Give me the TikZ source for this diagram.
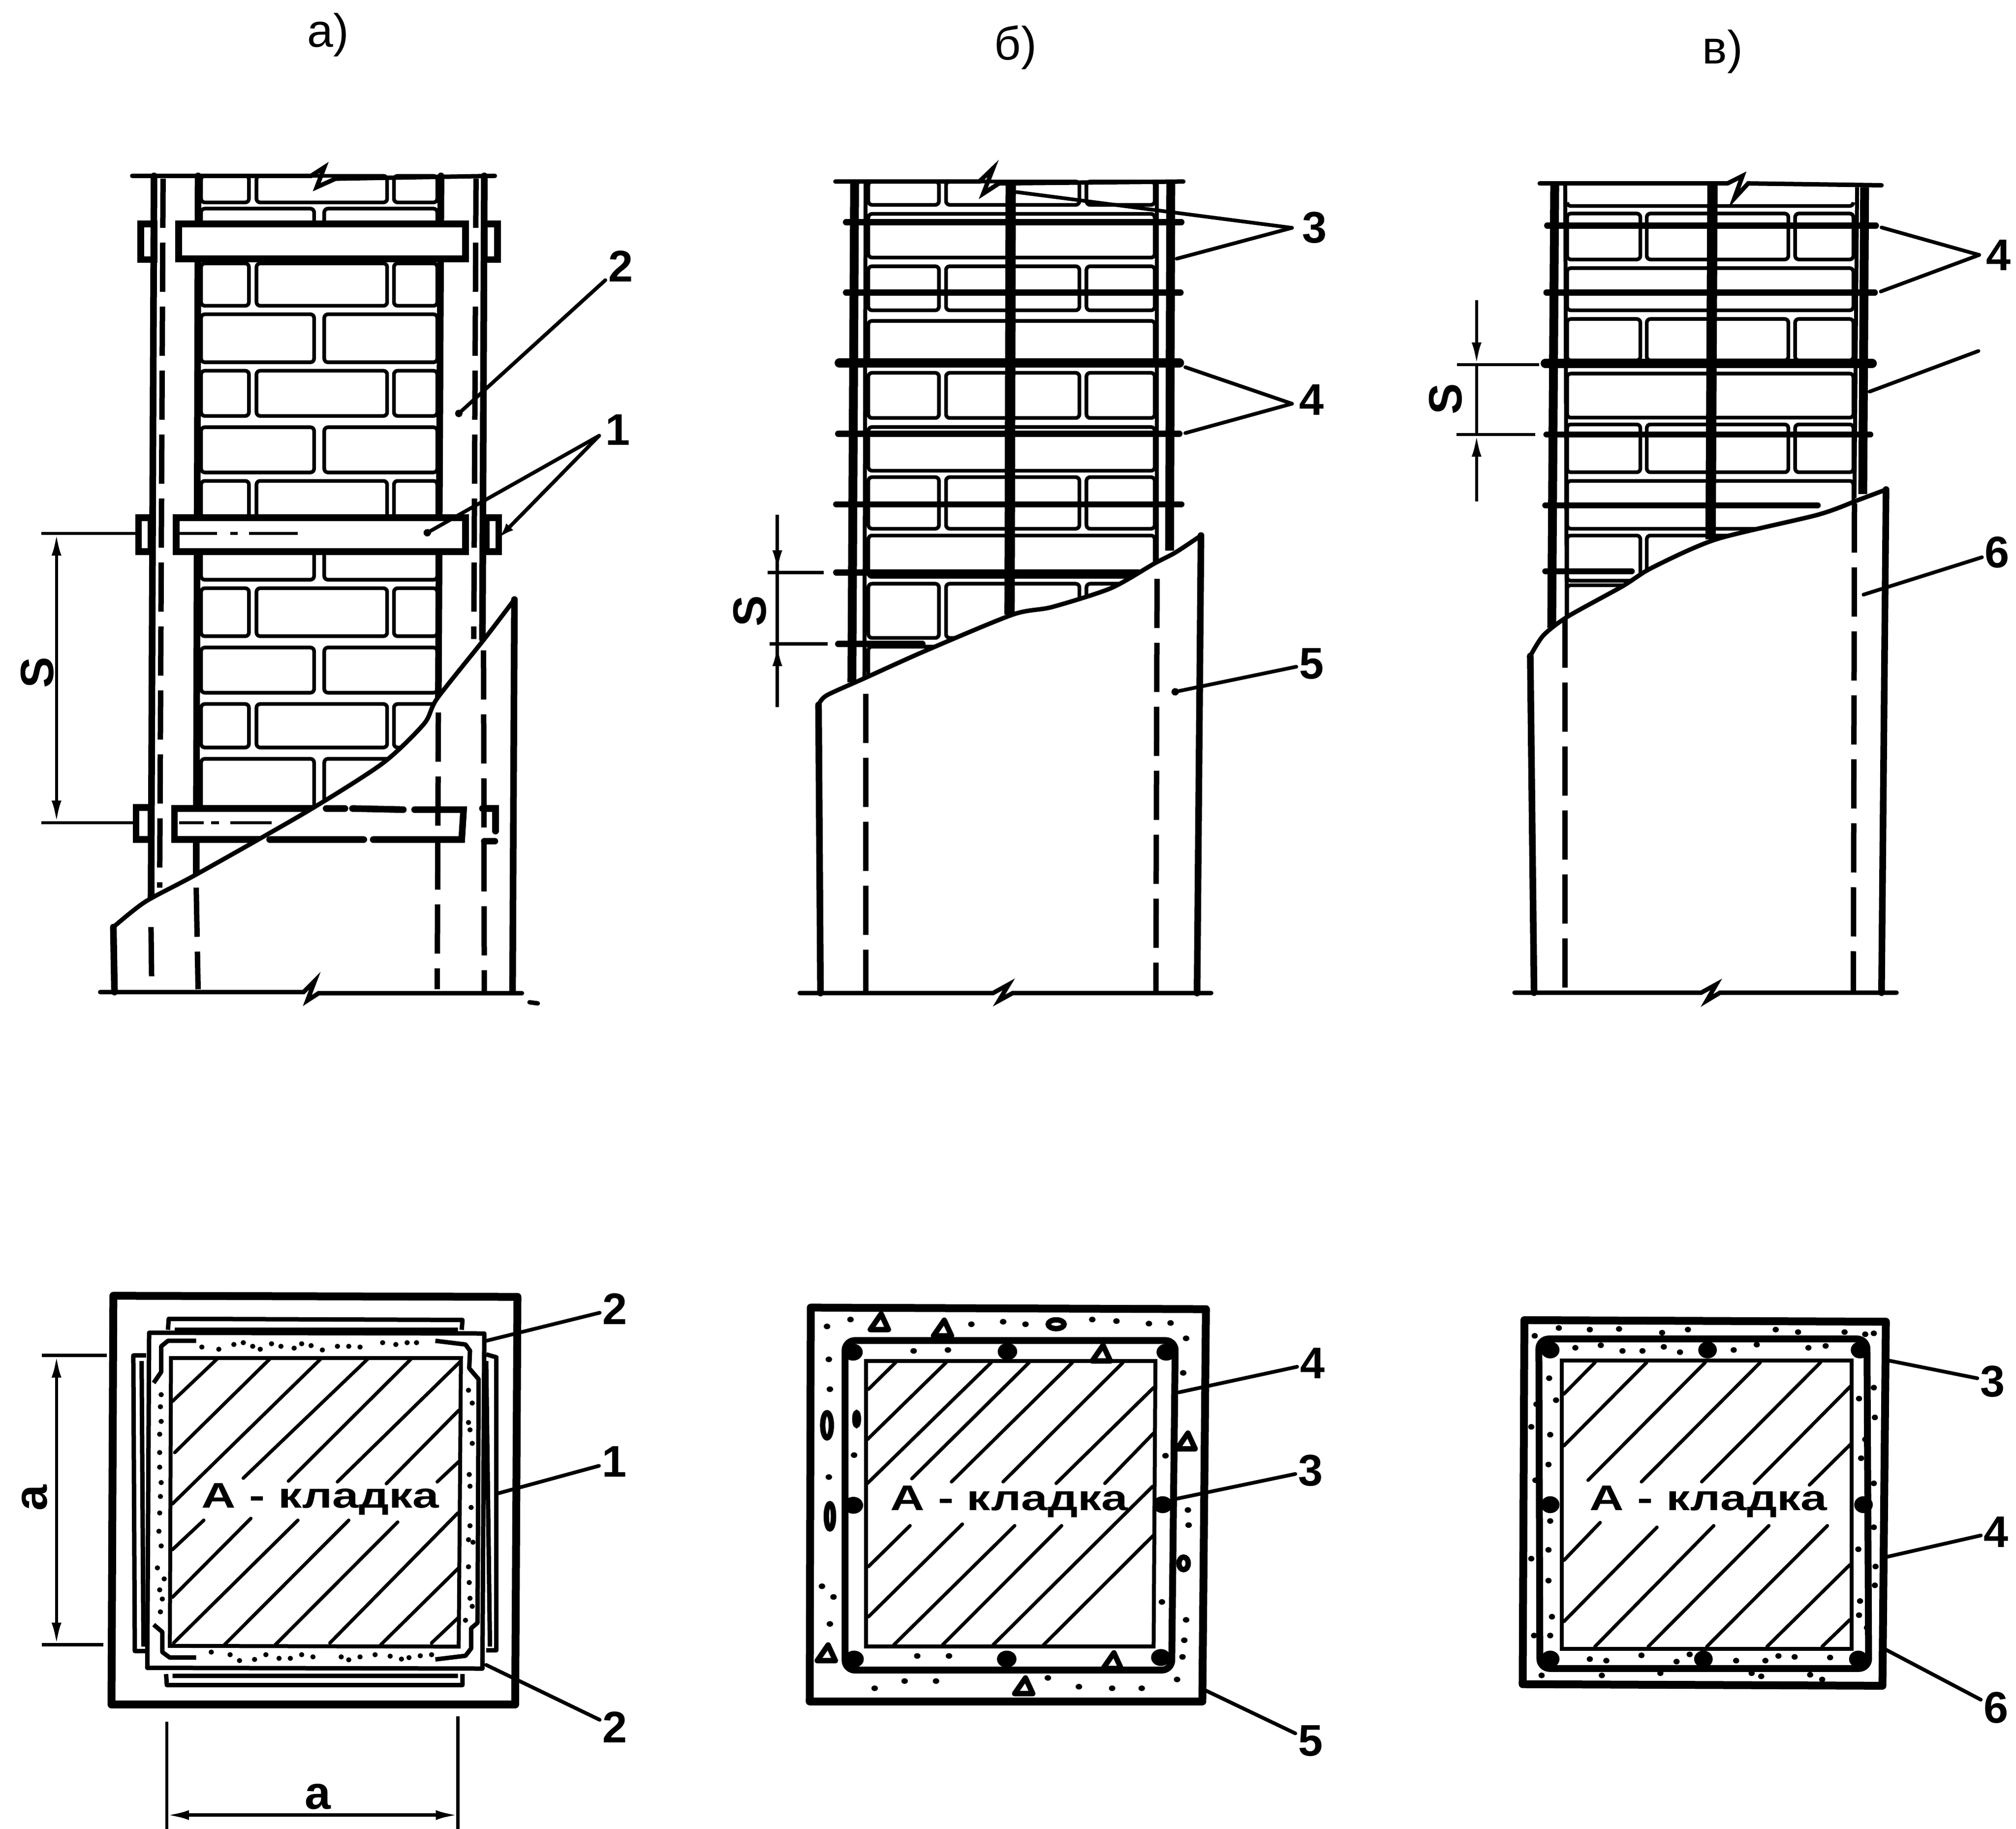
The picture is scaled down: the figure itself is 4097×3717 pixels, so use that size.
\documentclass[tikz,border=0pt]{standalone}
\usepackage{fontspec}
\usepackage{graphicx}
\setmainfont{Liberation Sans}
\usetikzlibrary{arrows.meta}
\tikzset{
 num/.style={font=\fontsize{18}{18}\bfseries\selectfont,inner sep=1pt},
 ttl/.style={font=\fontsize{19}{19}\selectfont,inner sep=0pt},
 dimtxt/.style={font=\fontsize{19}{19}\bfseries\selectfont,inner sep=0pt},
 wide/.style={font=\fontsize{14.5}{14.5}\bfseries\selectfont,inner sep=0pt},
 lead/.style={line width=1.5pt,line cap=round},
 ledot/.style={line width=1.5pt,line cap=round,-{Circle[length=3pt]}},
 leone/.style={line width=1.5pt,line cap=round,-{Latex[length=6pt,width=4pt]}},
 brickl/.style={line width=1.5pt,rounded corners=1.5pt},
 outl/.style={line width=2.7pt,line cap=round},
 colthin/.style={line width=1.6pt},
 colthick/.style={line width=3.6pt},
 rodl/.style={line width=2.5pt,line cap=round},
 rodh/.style={line width=3.8pt,line cap=round},
 hidden/.style={line width=2.2pt,dash pattern=on 20pt off 6pt},
 crackl/.style={line width=1.8pt},
 basel/.style={line width=1.8pt,line cap=round},
 dimline/.style={line width=1.3pt},
 dimarr/.style={line width=1.3pt,{Latex[length=9pt,width=4pt]}-{Latex[length=9pt,width=4pt]}},
 hatchl/.style={line width=1.4pt,line cap=round},
 frame/.style={line width=3.2pt,line join=round},
 stir/.style={line width=2.8pt,rounded corners=4pt},
 mason/.style={line width=1.6pt},
 angl/.style={line width=1.8pt,line join=round},
}
\newcommand{\kladka}{\scalebox{1.33}[1]{А - кладка}}
\begin{document}
\begin{tikzpicture}[x=0.2pt,y=-0.2pt]
\useasboundingbox (0,0) rectangle (4097,3717);
\node[ttl] (ta) at (667,71) {а)};
\node[ttl] (tb) at (2064,97) {б)};
\node[ttl] (tc) at (3501,105) {в)};

% ---------- panel a elevation
\begin{scope}[shift={(150,300)},x=0.15306pt,y=-0.22959pt]
\def\TR#1#2{\draw[brickl] (338,#1) rectangle (465,#2); \draw[brickl] (485,#1) rectangle (832,#2); \draw[brickl] (850,#1) rectangle (965,#2);}
\def\TW#1#2{\draw[brickl] (338,#1) rectangle (638,#2); \draw[brickl] (665,#1) rectangle (965,#2);}
\TR{50}{97}\TW{108}{180}\TR{205}{280}\TW{295}{380}\TR{395}{475}\TW{495}{575}\TR{590}{680}\TW{700}{765}\TR{780}{865}\TW{885}{965}\TR{985}{1062}\TW{1082}{1175}
\draw[basel] (155,50) -- (630,50) -- (665,35) -- (645,70) -- (695,55) -- (1118,50);
\draw[outl] (213,50) -- (205,1345);
\draw[hidden] (237,55) -- (228,1310);
\draw[outl] (330,50) -- (325,1300);
\draw[outl] (975,50) -- (968,975);
\draw[hidden] (1068,55) -- (1062,870);
\draw[outl] (1090,50) -- (1085,870);
% strips and clamps
\draw[outl] (178,135) rectangle (213,198);
\draw[outl] (1090,135) rectangle (1125,198);
\draw[outl] (172,655) rectangle (205,715);
\draw[outl] (1095,655) rectangle (1128,715);
\draw[outl] (165,1168) rectangle (205,1225);
\draw[outl,fill=white] (278,135) rectangle (1040,197);
\draw[outl,fill=white] (272,655) rectangle (1040,715);
\draw[outl,fill=white] (267,1170) rectangle (1035,1225);
% jacket
\fill[white] plot[smooth,tension=.45] coordinates {(105,1380) (190,1335) (330,1285) (620,1175) (820,1090) (930,1020) (965,975) (1090,870) (1170,800)} -- (1165,1495) -- (108,1495) -- cycle;
\draw[crackl] plot[smooth,tension=.45] coordinates {(105,1380) (190,1335) (330,1285) (620,1175) (820,1090) (930,1020) (965,975) (1090,870) (1170,800)};
\draw[outl] (105,1380) -- (108,1495);
\draw[outl] (1170,800) -- (1165,1495);
\draw[basel] (70,1495) -- (610,1495) -- (640,1475) -- (620,1510) -- (650,1497) -- (1190,1497);
\draw[basel] (1210,1513) -- (1232,1515);
\draw[hidden] (205,1380) -- (207,1495);
\draw[hidden] (325,1310) -- (330,1490);
\draw[hidden] (968,1000) -- (965,1490);
\draw[hidden] (1088,890) -- (1090,1495);
\draw[outl] (670,1170) -- (720,1170) (740,1170) -- (875,1172) (905,1172) -- (1035,1172) -- (1030,1225) -- (795,1225) (770,1225) -- (520,1225);
\draw[outl] (1085,1170) -- (1120,1170) -- (1120,1210) (1090,1228) -- (1118,1228);
% axes and dimension
\draw[dimline] (-86,683) -- (172,683) (265,683) -- (380,683) (415,683) -- (435,683) (465,683) -- (595,683);
\draw[dimline] (-86,1195) -- (165,1195) (280,1195) -- (345,1195) (365,1195) -- (385,1195) (415,1195) -- (525,1195);
\coordinate (sa1) at (-46,683);
\coordinate (sa2) at (-46,1195);
\draw[dimarr] (sa1) -- (sa2);
\node[dimtxt,rotate=90] (sa) at (-97,929) {S};
% leaders
\node[num] (n2a) at (1452,210) {2};
\coordinate (p2a) at (1015,475);
\draw[ledot] (n2a) -- (p2a);
\node[num] (n1a) at (1445,500) {1};
\coordinate (v1a) at (1395,510);
\coordinate (p1a) at (930,685);
\coordinate (q1a) at (1130,690);
\draw[ledot] (v1a) -- (p1a);
\draw[leone] (v1a) -- (q1a);
\end{scope}

% ---------- panel b elevation
\begin{scope}[shift={(1500,300)},x=0.15944pt,y=-0.15306pt]
\def\TR#1#2{\draw[brickl] (332,#1) rectangle (512,#2); \draw[brickl] (530,#1) rectangle (870,#2); \draw[brickl] (888,#1) rectangle (1062,#2);}
\def\TW#1#2{\draw[brickl] (332,#1) rectangle (1062,#2);}
\TR{90}{152}\TW{176}{292}\TR{315}{432}\TW{460}{575}\TR{598}{718}\TW{742}{858}\TR{875}{1012}\TW{1030}{1140}\TR{1158}{1302}\TW{1325}{1450}
\draw[basel] (248,90) -- (615,90) -- (650,55) -- (625,122) -- (665,95) -- (1135,90);
\draw[colthin] (325,95) -- (322,1410);
\draw[colthin] (1068,95) -- (1068,1100);
\foreach \yy/\xa/\xb in {198/275/1130,385/275/1128,760/255/1125,947/250/1130,1128/250/1020,1318/255/470} \draw[rodl] (\xa,\yy) -- (\xb,\yy);
\draw[rodh] (258,572) -- (1125,572);
\draw[colthick] (297,90) -- (290,1420);
\draw[colthick] (1103,90) -- (1100,1070);
\draw[line width=4.2pt] (695,90) -- (692,1240);
\fill[white] plot[smooth,tension=.45] coordinates {(205,1480) (225,1455) (320,1410) (480,1335) (700,1240) (800,1220) (950,1170) (1060,1105) (1115,1075) (1180,1030)} -- (1170,2245) -- (210,2245) -- cycle;
\draw[crackl] plot[smooth,tension=.45] coordinates {(205,1480) (225,1455) (320,1410) (480,1335) (700,1240) (800,1220) (950,1170) (1060,1105) (1115,1075) (1180,1030)};
\draw[outl] (205,1480) -- (210,2245);
\draw[outl] (1180,1030) -- (1170,2245);
\draw[basel] (157,2245) -- (650,2245) -- (690,2222) -- (665,2265) -- (700,2245) -- (1206,2245);
\draw[hidden] (325,1450) -- (325,2245);
\draw[hidden] (1068,1145) -- (1065,2245);
\coordinate (sb1) at (100,1128);
\coordinate (sb2) at (100,1318);
\coordinate (sb3) at (100,975);
\coordinate (sb4) at (100,1485);
\draw[dimline] (sb3) -- (sb4);
\draw[dimline,-{Latex[length=9pt,width=4pt]}] (sb3) -- (sb1);
\draw[dimline,-{Latex[length=9pt,width=4pt]}] (sb4) -- (sb2);
\draw[dimline] (75,1128) -- (218,1128) (80,1318) -- (228,1318);
\node[dimtxt,rotate=90] (sb) at (30,1230) {S};
\node[num] (n3b) at (1470,213) {3};
\coordinate (v3b) at (1412,213);
\coordinate (p3b) at (710,118);
\coordinate (q3b) at (1118,295);
\draw[lead] (v3b) -- (p3b);
\draw[lead] (v3b) -- (q3b);
\node[num] (n4b) at (1462,670) {4};
\coordinate (v4b) at (1412,680);
\coordinate (p4b) at (1140,583);
\coordinate (q4b) at (1140,758);
\draw[lead] (v4b) -- (p4b);
\draw[lead] (v4b) -- (q4b);
\node[num] (n5b) at (1462,1370) {5};
\coordinate (p5b) at (1105,1447);
\draw[ledot] (n5b) -- (p5b);
\end{scope}

% ---------- panel v elevation
\begin{scope}[shift={(2900,300)},x=0.15268pt,y=-0.15306pt]
\def\TR#1#2{\draw[brickl] (373,#1) rectangle (568,#2); \draw[brickl] (585,#1) rectangle (962,#2); \draw[brickl] (980,#1) rectangle (1135,#2);}
\def\TW#1#2{\draw[brickl] (373,#1) rectangle (1135,#2);}
\TW{155}{155}\TR{175}{297}\TW{320}{432}\TR{455}{565}\TW{600}{717}\TR{735}{862}\TW{885}{1012}\TR{1030}{1150}\TW{1162}{1300}
\draw[basel] (300,95) -- (800,95) -- (840,75) -- (818,135) -- (855,95) -- (1210,100);
\draw[colthin] (368,100) -- (372,1250);
\draw[colthin] (1145,105) -- (1138,930);
\foreach \yy/\xa/\xb in {207/320/1195,385/318/1192,762/318/1180,950/315/1040,1125/315/545} \draw[rodl] (\xa,\yy) -- (\xb,\yy);
\draw[rodh] (315,573) -- (1185,573);
\draw[colthick] (340,100) -- (332,1275);
\draw[colthick] (1165,105) -- (1160,920);
\draw[line width=4.2pt] (760,100) -- (755,1040);
\fill[white] plot[smooth,tension=.45] coordinates {(275,1350) (310,1295) (375,1245) (520,1165) (600,1115) (770,1040) (1040,975) (1150,935) (1222,908)} -- (1210,2244) -- (285,2244) -- cycle;
\draw[crackl] plot[smooth,tension=.45] coordinates {(275,1350) (310,1295) (375,1245) (520,1165) (600,1115) (770,1040) (1040,975) (1150,935) (1222,908)};
\draw[outl] (275,1350) -- (285,2244);
\draw[outl] (1222,908) -- (1210,2244);
\draw[basel] (233,2244) -- (730,2244) -- (770,2222) -- (745,2265) -- (780,2244) -- (1250,2244);
\draw[hidden] (368,1250) -- (368,2244);
\draw[hidden] (1138,945) -- (1135,2244);
\coordinate (sc1) at (132,576);
\coordinate (sc2) at (132,762);
\coordinate (sc3) at (132,405);
\coordinate (sc4) at (132,940);
\draw[dimline,-{Latex[length=9pt,width=4pt]}] (sc3) -- (sc1);
\draw[dimline,-{Latex[length=9pt,width=4pt]}] (sc4) -- (sc2);
\draw[dimline] (sc1) -- (sc2);
\draw[dimline] (80,576) -- (298,576) (78,762) -- (288,762);
\node[dimtxt,rotate=90] (sc) at (50,668) {S};
\node[num] (n4c) at (1522,285) {4};
\coordinate (v4c) at (1470,285);
\coordinate (p4c) at (1210,212);
\coordinate (q4c) at (1208,382);
\draw[lead] (v4c) -- (p4c);
\draw[lead] (v4c) -- (q4c);
\coordinate (e1c) at (1468,540);
\coordinate (e2c) at (1178,648);
\draw[lead] (e1c) -- (e2c);
\node[num] (n6c) at (1518,1075) {6};
\coordinate (p6c) at (1162,1187);
\draw[lead] (n6c) -- (p6c);
\end{scope}

% ---------- plan a
\begin{scope}[shift={(150,2550)},x=0.15306pt,y=-0.14885pt]
\draw[frame] (105,112) -- (1178,115) -- (1172,1228) -- (100,1228) -- cycle;
\draw[angl] (250,205) -- (252,175) -- (1032,178) -- (1030,205) (268,205) -- (1020,205);
\draw[angl] (245,1145) -- (247,1175) -- (1032,1175) -- (1032,1145) (262,1150) -- (1020,1150);
\draw[angl] (192,275) -- (158,275) -- (162,1082) -- (192,1082) (180,290) -- (185,1070);
\draw[angl] (1095,272) -- (1122,280) -- (1122,1080) -- (1095,1080) (1095,290) -- (1105,1070);
\draw[angl] (200,213) -- (1090,215) -- (1085,1130) -- (195,1128) -- cycle;
\draw[angl] (212,350) -- (232,320) -- (232,250) -- (250,235) -- (325,235);
\draw[angl] (960,235) -- (1040,245) -- (1052,262) -- (1050,310) -- (1075,340) -- (1072,1005) -- (1055,1020) -- (1055,1075) -- (1040,1095) -- (960,1105);
\draw[angl] (212,1010) -- (235,1030) -- (235,1085) -- (255,1100) -- (325,1100);
\draw[mason] (258,282) -- (1028,282) -- (1022,1070) -- (255,1068) -- cycle;
\foreach \xa/\ya/\xb/\yb in {262/400/380/285,268/540/520/285,262/680/655/285,450/610/780/285,570/618/895/285,700/620/1028/290,830/625/1022/425,965/620/1022/565,262/805/345/725,262/935/470/720,265/1060/595/725,400/1065/730/725,535/1065/860/730,680/1060/1020/705,815/1065/1022/855,950/1060/1022/990}
 \draw[hatchl] (\xa,\ya) -- (\xb,\yb);
\node[wide] (ka) at (655,668) {\kladka};
\foreach \xx/\yy in {340/252,385/258,425/245,450/240,475/250,495/258,525/243,550/250,585/255,605/243,630/248,660/260,700/250,730/250,760/252,820/240,855/245,885/240,910/240,
 365/1085,415/1092,440/1108,480/1105,510/1092,545/1102,575/1102,605/1092,635/1098,710/1098,730/1106,760/1098,800/1092,840/1096,870/1104,890/1100,920/1095,950/1092,
 232/382,230/415,232/455,228/490,228/540,228/580,232/622,230/660,228/705,226/755,232/795,222/855,240/885,228/915,235/940,230/975,
 1048/370,1058/405,1048/458,1052/478,1058/515,1050/600,1052/632,1055/690,1052/740,1048/778,1060/785,1048/852,1050/895,1052/938,1058/960,1040/998}
 \fill (\xx,\yy) circle[radius=7];
\coordinate (ha1) at (247,1530);
\coordinate (ha2) at (1020,1530);
\draw[dimline] (247,1275) -- (247,1570) (1020,1260) -- (1020,1570);
\draw[dimarr] (ha1) -- (ha2);
\node[dimtxt] (aa) at (648,1480) {a};
\draw[dimline] (-85,275) -- (88,275) (-85,1065) -- (78,1065);
\coordinate (va1) at (-46,275);
\coordinate (va2) at (-46,1065);
\draw[dimarr] (va1) -- (va2);
\node[dimtxt,rotate=90] (ab) at (-104,664) {a};
\node[num] (n2d) at (1437,148) {2};
\coordinate (p2d) at (1095,235);
\draw[lead] (n2d) -- (p2d);
\node[num] (n1d) at (1435,565) {1};
\coordinate (p1d) at (1125,652);
\draw[lead] (n1d) -- (p1d);
\node[num] (n2e) at (1437,1290) {2};
\coordinate (p2e) at (1095,1120);
\draw[lead] (n2e) -- (p2e);
\end{scope}

% ---------- plan b
\begin{scope}[shift={(1600,2600)},x=0.14668pt,y=-0.12755pt]
\draw[frame] (65,90) -- (1160,95) -- (1150,1345) -- (62,1345) -- cycle;
\draw[stir] (160,195) -- (1075,195) -- (1065,1245) -- (160,1245) -- cycle;
\draw[mason] (218,260) -- (1020,260) -- (1015,1170) -- (218,1170) -- cycle;
\foreach \xa/\ya/\xb/\yb in {225/350/300/265,222/510/440/265,222/650/565/265,345/635/670/265,455/645/790/265,598/645/930/265,745/650/1015/345,880/650/1015/490,225/915/340/785,225/1075/485/780,295/1165/630/785,430/1165/760/785,570/1165/1012/660,710/1165/1015/815}
 \draw[hatchl] (\xa,\ya) -- (\xb,\yb);
\node[wide] (kb) at (615,708) {\kladka};
\foreach \xx/\yy in {182/232,1050/232,610/230,183/720,1040/718,185/1210,1035/1205,608/1210}
 \fill (\xx,\yy) circle[radius=27];
\foreach \xx/\yy in {110/150,175/128,510/143,598/135,660/143,845/128,912/133,1002/141,1062/139,1105/188,115/255,350/228,445/225,1097/298,118/350,185/560,115/630,1048/562,1110/735,1112/783,1038/1028,1105/1085,1100/1150,1095/1203,96/978,128/1012,118/1098,242/1303,325/1280,412/1280,722/1270,808/1298,900/1303,982/1303,448/1200,360/1200,1080/1275}
 \fill (\xx,\yy) circle[radius=9];
\foreach \xx/\yy in {255/135,430/155,1105/515,655/1295,900/1215,108/1190,870/235}
 \draw[line width=2.2pt,line join=round] (\xx-25,\yy+25) -- (\xx+25,\yy+25) -- (\xx+5,\yy-25) -- cycle;
\foreach \xx/\yy/\rx/\ry in {745/143/22/14,110/465/12/40,1098/905/13/20,118/755/10/40,192/445/5/20}
 \draw[line width=2.2pt,fill=white] (\xx,\yy) circle[x radius=\rx,y radius=\ry];
\node[num] (n4f) at (1455,268) {4};
\coordinate (p4f) at (1085,360);
\draw[lead] (n4f) -- (p4f);
\node[num] (n3f) at (1450,610) {3};
\coordinate (p3f) at (1075,700);
\draw[lead] (n3f) -- (p3f);
\node[num] (n5f) at (1450,1470) {5};
\coordinate (p5f) at (1150,1305);
\draw[lead] (n5f) -- (p5f);
\end{scope}

% ---------- plan v
\begin{scope}[shift={(3000,2600)},x=0.13992pt,y=-0.12755pt]
\draw[frame] (140,130) -- (1190,135) -- (1180,1295) -- (135,1290) -- cycle;
\draw[stir] (182,190) -- (1135,190) -- (1140,1240) -- (185,1240) -- cycle;
\draw[mason] (248,258) -- (1090,258) -- (1090,1178) -- (248,1178) -- cycle;
\foreach \xa/\ya/\xb/\yb in {255/365/345/265,255/530/495/265,325/640/665/265,480/645/825/265,655/645/1000/265,808/650/1088/340,968/655/1088/525,255/895/360/775,255/1090/525/790,345/1170/690/785,500/1170/850/785,670/1170/1020/785,845/1170/1085/910,1005/1170/1085/1085}
 \draw[hatchl] (\xa,\ya) -- (\xb,\yb);
\node[wide] (kc) at (675,708) {\kladka};
\foreach \xx/\yy in {215/225,1115/225,672/225,215/718,1125/718,215/1210,1110/1210,660/1210}
 \fill (\xx,\yy) circle[radius=27];
\foreach \xx/\yy in {170/180,240/155,330/160,415/158,540/170,615/160,870/160,935/168,1070/168,1130/175,1155/172,288/218,362/210,425/228,483/228,545/215,592/232,748/225,815/208,965/218,1015/212,212/315,232/385,175/398,215/495,210/590,172/640,160/470,215/770,210/862,160/890,210/960,220/1075,168/1135,215/1135,1112/380,1155/345,1158/440,1130/510,1118/570,1155/650,1155/790,1110/860,1160/915,1158/975,1115/1025,1112/1070,1135/1110,330/1210,378/1215,480/1198,582/1218,620/1195,755/1215,840/1215,878/1200,925/1203,1028/1205,190/1262,365/1262,535/1255,800/1255,828/1265,970/1260,1005/1275}
 \fill (\xx,\yy) circle[radius=9];
\node[num] (n3g) at (1500,325) {3};
\coordinate (p3g) at (1195,258);
\draw[lead] (n3g) -- (p3g);
\node[num] (n4g) at (1510,805) {4};
\coordinate (p4g) at (1190,885);
\draw[lead] (n4g) -- (p4g);
\node[num] (n6g) at (1510,1365) {6};
\coordinate (p6g) at (1190,1180);
\draw[lead] (n6g) -- (p6g);
\end{scope}
\end{tikzpicture}
\end{document}
